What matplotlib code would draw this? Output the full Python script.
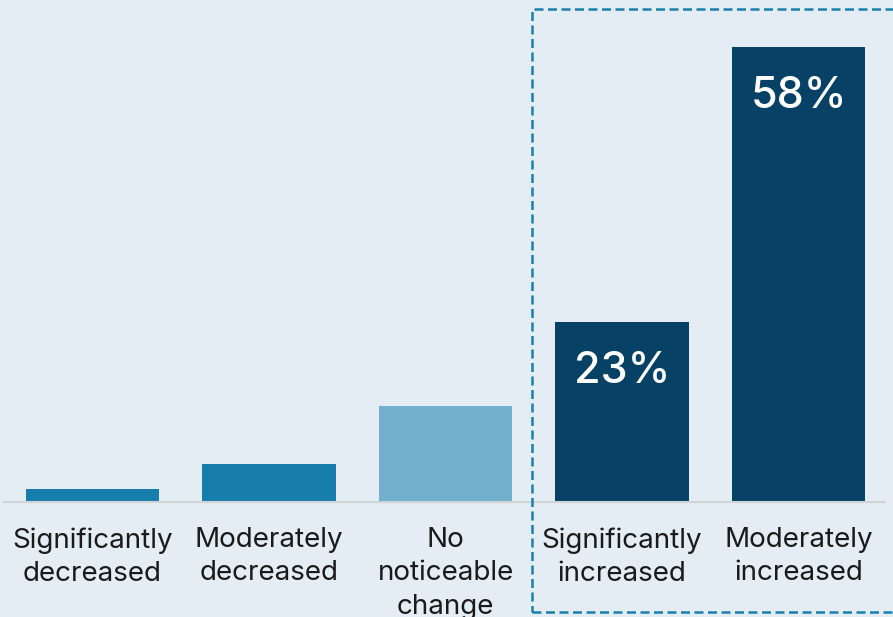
import matplotlib
matplotlib.use("Agg")
import matplotlib.pyplot as plt
import matplotlib.patches as mpatches

# Survey breakdown of reported change
categories = ["Significantly\ndecreased", "Moderately\ndecreased",
              "No\nnoticeable\nchange", "Significantly\nincreased",
              "Moderately\nincreased"]
values = [1.7, 4.8, 12.3, 23, 58]
shown_labels = ["", "", "", "23%", "58%"]
colors = ["#177eac", "#177eac", "#72b0cd", "#074266", "#074266"]

BG = "#e4edf3"

plt.rcParams["font.family"] = ["Inter", "DejaVu Sans"]

fig = plt.figure(figsize=(8.93, 6.17), dpi=100, facecolor=BG)
ax = fig.add_axes([0, 0, 1, 1])
ax.set_facecolor(BG)

x = list(range(len(values)))
ax.bar(x, values, width=0.754, color=colors, zorder=2)

ax.set_xlim(-0.524, 4.535)
ax.set_ylim(-14.66, 64.0)
ax.axis("off")

# baseline
ax.plot([-0.5, 4.49], [0, 0], color="#cfd4d7", lw=1.5, zorder=3)

for xi, v, lab in zip(x, values, shown_labels):
    if lab:
        ax.text(xi, v - 6.3, lab, ha="center", va="center", color="white",
                fontsize=31, fontweight="medium", zorder=4)

for xi, cat in zip(x, categories):
    ax.text(xi, -3.2, cat, ha="center", va="top", color="#1a1a1a",
            fontsize=20, linespacing=1.36, zorder=4)

# highlight box around the increase categories
box = mpatches.Rectangle((2.49, -14.0), 2.2, 76.8, fill=False,
                         edgecolor="#1a7fad", lw=1.8, ls=(0, (3.6, 1.8)),
                         zorder=5, clip_on=False)
ax.add_patch(box)

fig.savefig("out.png", dpi=100, facecolor=BG)
